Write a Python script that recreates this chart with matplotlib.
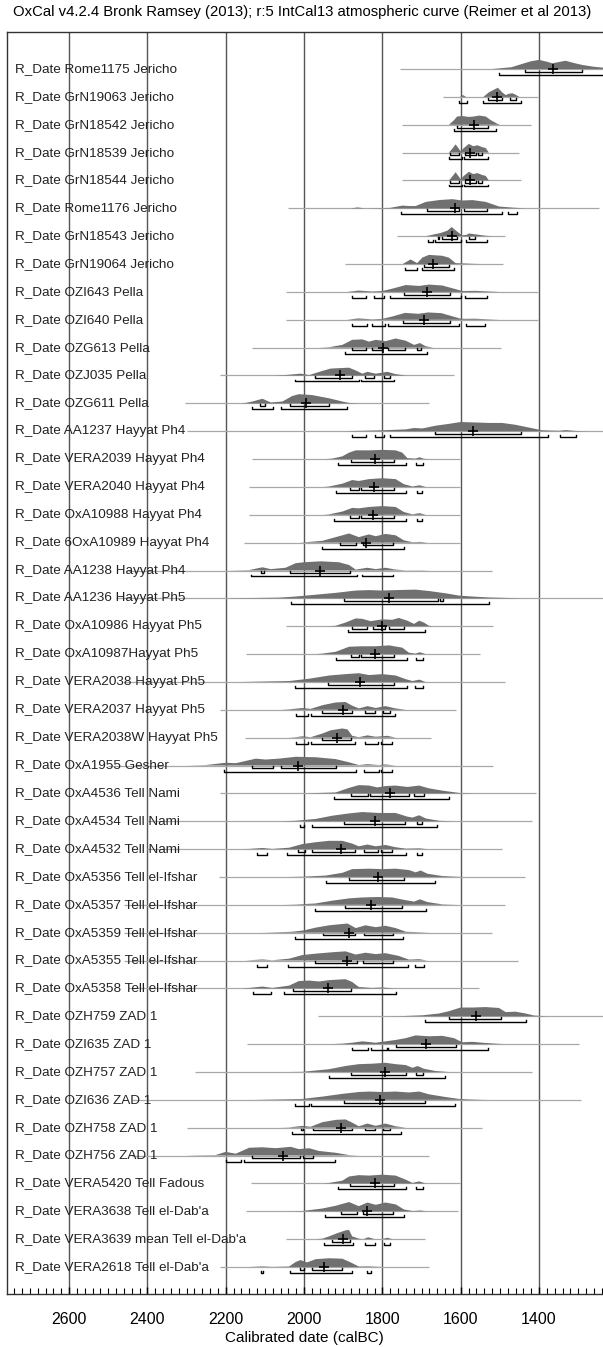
import matplotlib.pyplot as plt
from matplotlib.ticker import MultipleLocator

plt.rcParams["font.family"] = ["Liberation Sans", "DejaVu Sans"]

title = "OxCal v4.2.4 Bronk Ramsey (2013); r:5 IntCal13 atmospheric curve (Reimer et al 2013)"

samples = [
    "Rome1175 Jericho", "GrN19063 Jericho", "GrN18542 Jericho", "GrN18539 Jericho",
    "GrN18544 Jericho", "Rome1176 Jericho", "GrN18543 Jericho", "GrN19064 Jericho",
    "OZI643 Pella", "OZI640 Pella", "OZG613 Pella", "OZJ035 Pella", "OZG611 Pella",
    "AA1237 Hayyat Ph4", "VERA2039 Hayyat Ph4", "VERA2040 Hayyat Ph4",
    "OxA10988 Hayyat Ph4", "6OxA10989 Hayyat Ph4", "AA1238 Hayyat Ph4",
    "AA1236 Hayyat Ph5", "OxA10986 Hayyat Ph5", "OxA10987Hayyat Ph5",
    "VERA2038 Hayyat Ph5", "VERA2037 Hayyat Ph5", "VERA2038W Hayyat Ph5",
    "OxA1955 Gesher", "OxA4536 Tell Nami", "OxA4534 Tell Nami", "OxA4532 Tell Nami",
    "OxA5356 Tell el-Ifshar", "OxA5357 Tell el-Ifshar", "OxA5359 Tell el-Ifshar",
    "OxA5355 Tell el-Ifshar", "OxA5358 Tell el-Ifshar",
    "OZH759 ZAD 1", "OZI635 ZAD 1", "OZH757 ZAD 1", "OZI636 ZAD 1", "OZH758 ZAD 1",
    "OZH756 ZAD 1", "VERA5420 Tell Fadous", "VERA3638 Tell el-Dab'a",
    "VERA3639 mean Tell el-Dab'a", "VERA2618 Tell el-Dab'a",
]

# extent of the likelihood line (calBC)
baselines = [
    (1756, 1150), (1645, 1402), (1751, 1421), (1751, 1451), (1751, 1447),
    (2040, 1247), (1762, 1487), (1895, 1492), (2045, 1402), (2045, 1402),
    (2134, 1498), (2215, 1617), (2304, 1681), (2298, 1150), (2134, 1602),
    (2140, 1602), (2140, 1602), (2153, 1602), (2450, 1521), (2480, 1150),
    (2045, 1517), (2147, 1551), (2460, 1487), (2215, 1613), (2151, 1677),
    (2500, 1517), (2215, 1407), (2400, 1417), (2400, 1494), (2217, 1436),
    (2460, 1487), (2460, 1521), (2460, 1453), (2450, 1552), (1963, 1150),
    (2145, 1298), (2279, 1417), (2440, 1292), (2300, 1546), (2440, 1681),
    (2136, 1602), (2149, 1606), (2045, 1691), (2215, 1681),
]

medians = [
    1364, 1507, 1566, 1577, 1577, 1615, 1623, 1670, 1687, 1694, 1798, 1908, 1994,
    1568, 1819, 1821, 1823, 1841, 1960, 1783, 1800, 1819, 1857, 1900, 1915, 2015,
    1780, 1820, 1905, 1810, 1828, 1884, 1891, 1939, 1562, 1689, 1794, 1806, 1906,
    2054, 1819, 1840, 1901, 1949,
]

# 68.2% ranges
r68 = [
    [(1437, 1290)],
    [(1530, 1495), (1475, 1460)],
    [(1610, 1530)],
    [(1627, 1604), (1589, 1562), (1557, 1545)],
    [(1627, 1604), (1589, 1562), (1557, 1545)],
    [(1685, 1604), (1591, 1532)],
    [(1659, 1655), (1647, 1609), (1579, 1564)],
    [(1694, 1630)],
    [(1745, 1626)],
    [(1747, 1628)],
    [(1878, 1841), (1827, 1800), (1785, 1743), (1711, 1702)],
    [(1972, 1877), (1843, 1821), (1796, 1781)],
    [(2112, 2100), (2036, 1935)],
    [(1666, 1445)],
    [(1881, 1770)],
    [(1883, 1860), (1854, 1770)],
    [(1883, 1860), (1854, 1770)],
    [(1909, 1866), (1849, 1774)],
    [(2111, 2102), (2036, 1883)],
    [(1898, 1657), (1654, 1644)],
    [(1878, 1840), (1823, 1792), (1783, 1744)],
    [(1881, 1860), (1854, 1770)],
    [(1938, 1770)],
    [(1955, 1877), (1843, 1820), (1798, 1781)],
    [(1955, 1881)],
    [(2134, 2079), (2060, 1919)],
    [(1879, 1837), (1832, 1732), (1719, 1694)],
    [(1898, 1742), (1711, 1700)],
    [(2015, 1997), (1980, 1870), (1846, 1811), (1803, 1776)],
    [(1885, 1744)],
    [(1895, 1751)],
    [(1951, 1870), (1847, 1774)],
    [(1973, 1864), (1849, 1772)],
    [(2027, 1881)],
    [(1630, 1498)],
    [(1766, 1613)],
    [(1881, 1739), (1713, 1696)],
    [(1898, 1691)],
    [(2007, 2003), (1976, 1877), (1843, 1819), (1798, 1781)],
    [(2134, 2011), (2002, 1976)],
    [(1883, 1770)],
    [(1905, 1864), (1849, 1772)],
    [(1928, 1883)],
    [(2011, 2000), (1979, 1902)],
]

# 95.4% ranges
r95 = [
    [(1502, 1150)],
    [(1604, 1583), (1544, 1447)],
    [(1617, 1511)],
    [(1630, 1596), (1592, 1530)],
    [(1630, 1596), (1592, 1530)],
    [(1753, 1494), (1479, 1455)],
    [(1683, 1671), (1666, 1598), (1586, 1532)],
    [(1742, 1711), (1700, 1617)],
    [(1877, 1841), (1821, 1796), (1781, 1598), (1589, 1532)],
    [(1878, 1838), (1826, 1794), (1785, 1604), (1586, 1538)],
    [(1895, 1687)],
    [(2024, 1860), (1854, 1770)],
    [(2134, 2079), (2060, 1889)],
    [(1877, 1841), (1820, 1796), (1781, 1376), (1346, 1305)],
    [(1912, 1739), (1713, 1696)],
    [(1919, 1740), (1711, 1698)],
    [(1923, 1740), (1712, 1698)],
    [(1953, 1745)],
    [(2136, 1864), (1851, 1772)],
    [(2032, 1528)],
    [(1888, 1691)],
    [(1919, 1738), (1713, 1696)],
    [(2024, 1736), (1717, 1695)],
    [(2021, 1991), (1983, 1768)],
    [(2021, 1991), (1983, 1871), (1845, 1810), (1803, 1776)],
    [(2204, 1868), (1846, 1809), (1803, 1775)],
    [(1923, 1630)],
    [(2011, 2000), (1980, 1660)],
    [(2121, 2094), (2043, 1740), (1711, 1698)],
    [(1945, 1666)],
    [(1973, 1688)],
    [(2023, 1746)],
    [(2120, 2094), (2040, 1735), (1717, 1694)],
    [(2130, 2085), (2050, 1766)],
    [(1692, 1432)],
    [(1878, 1837), (1830, 1789), (1785, 1529)],
    [(1936, 1640)],
    [(2023, 1987), (1983, 1615)],
    [(2030, 1753)],
    [(2200, 2160), (2153, 1921)],
    [(1912, 1739), (1713, 1696)],
    [(1946, 1745)],
    [(1949, 1875), (1843, 1820), (1796, 1781)],
    [(2111, 2105), (2036, 1877), (1838, 1830)],
]

# probability profiles: (calBC, relative density)
profiles = [
    [(1520, 0), (1490, 0.12), (1470, 0.2), (1440, 0.6), (1420, 0.85), (1400, 1.0), (1380, 0.8), (1366, 0.63), (1345, 0.8), (1332, 0.9), (1310, 0.65), (1290, 0.45), (1260, 0.25), (1236, 0.15), (1200, 0.05), (1180, 0)],
    [(1602, 0), (1594, 0.2), (1586, 0), (1542, 0), (1528, 0.5), (1512, 0.85), (1505, 1.0), (1494, 0.5), (1485, 0.2), (1476, 0.35), (1468, 0.4), (1458, 0.2), (1450, 0)],
    [(1630, 0), (1617, 0.5), (1609, 0.9), (1596, 0.95), (1579, 0.85), (1566, 0.9), (1553, 1.0), (1536, 0.9), (1523, 0.5), (1506, 0.1), (1500, 0)],
    [(1630, 0), (1620, 0.5), (1613, 0.9), (1606, 0.5), (1600, 0.15), (1592, 0.5), (1579, 0.95), (1568, 0.7), (1557, 0.8), (1545, 0.6), (1536, 0.5), (1528, 0)],
    [(1630, 0), (1620, 0.5), (1613, 0.9), (1606, 0.5), (1600, 0.15), (1592, 0.5), (1579, 0.95), (1568, 0.7), (1557, 0.8), (1545, 0.6), (1536, 0.5), (1528, 0)],
    [(1880, 0), (1863, 0.1), (1845, 0), (1780, 0.05), (1749, 0.3), (1730, 0.25), (1715, 0.25), (1689, 0.7), (1655, 0.9), (1621, 1.0), (1596, 0.85), (1570, 0.9), (1536, 0.7), (1502, 0.2), (1468, 0.08), (1434, 0)],
    [(1688, 0), (1668, 0.2), (1651, 0.35), (1634, 0.6), (1623, 1.0), (1609, 0.5), (1596, 0.1), (1585, 0.15), (1579, 0.3), (1562, 0.2), (1536, 0.05), (1520, 0)],
    [(1748, 0), (1728, 0.5), (1711, 0.1), (1698, 0.7), (1681, 1.0), (1647, 0.9), (1630, 0.7), (1613, 0.1), (1570, 0.03), (1550, 0)],
    [(1890, 0), (1860, 0.15), (1826, 0.05), (1800, 0.1), (1775, 0.35), (1740, 0.75), (1706, 0.65), (1681, 0.8), (1647, 0.7), (1617, 0.35), (1596, 0.1), (1562, 0.12), (1528, 0.05), (1500, 0)],
    [(1890, 0), (1862, 0.15), (1826, 0.05), (1800, 0.1), (1775, 0.35), (1742, 0.75), (1708, 0.65), (1683, 0.8), (1649, 0.72), (1619, 0.35), (1598, 0.1), (1564, 0.12), (1530, 0.05), (1500, 0)],
    [(1960, 0), (1936, 0.05), (1902, 0.3), (1877, 0.85), (1851, 0.9), (1834, 0.65), (1817, 0.85), (1792, 0.7), (1766, 1.0), (1740, 0.75), (1719, 0.3), (1704, 0.5), (1689, 0.15), (1670, 0)],
    [(2080, 0), (2047, 0.05), (2009, 0.2), (1987, 0.05), (1953, 0.5), (1932, 0.75), (1911, 0.8), (1885, 0.85), (1868, 0.55), (1851, 0.2), (1838, 0.4), (1817, 0.2), (1787, 0.4), (1766, 0.15), (1740, 0)],
    [(2160, 0), (2149, 0.05), (2132, 0.2), (2106, 0.5), (2085, 0.1), (2055, 0.2), (2030, 0.8), (2013, 1.0), (1979, 0.9), (1936, 0.55), (1902, 0.2), (1885, 0.05), (1860, 0)],
    [(1900, 0), (1800, 0.1), (1740, 0.2), (1719, 0.35), (1698, 0.3), (1664, 0.6), (1630, 0.8), (1600, 1.0), (1562, 0.95), (1528, 0.9), (1494, 0.9), (1460, 0.7), (1426, 0.4), (1392, 0.1), (1349, 0.05), (1332, 0.12), (1306, 0.03), (1270, 0)],
    [(1945, 0), (1928, 0.05), (1902, 0.3), (1885, 0.7), (1868, 0.95), (1834, 0.95), (1800, 1.0), (1766, 0.95), (1749, 0.7), (1736, 0.1), (1715, 0.05), (1705, 0.2), (1694, 0.03), (1680, 0)],
    [(1950, 0), (1936, 0.05), (1902, 0.35), (1877, 0.75), (1860, 0.65), (1834, 0.85), (1800, 0.95), (1766, 0.85), (1745, 0.3), (1723, 0.05), (1705, 0.18), (1689, 0)],
    [(1950, 0), (1936, 0.05), (1902, 0.35), (1877, 0.75), (1860, 0.7), (1834, 0.85), (1800, 0.95), (1766, 0.85), (1745, 0.3), (1723, 0.05), (1705, 0.18), (1689, 0)],
    [(2010, 0), (1953, 0.2), (1919, 0.6), (1885, 1.0), (1860, 0.6), (1834, 0.9), (1817, 0.7), (1792, 0.95), (1766, 0.8), (1745, 0.25), (1723, 0.05), (1702, 0.08), (1685, 0)],
    [(2200, 0), (2140, 0.05), (2106, 0.35), (2085, 0.15), (2047, 0.3), (2021, 0.8), (2000, 0.9), (1957, 1.0), (1911, 0.9), (1885, 0.6), (1868, 0.1), (1838, 0.3), (1817, 0.15), (1792, 0.3), (1766, 0.1), (1740, 0.02), (1698, 0.03), (1680, 0)],
    [(2200, 0), (2149, 0.03), (2064, 0.08), (2021, 0.2), (1970, 0.4), (1919, 0.6), (1868, 0.85), (1834, 0.9), (1800, 0.85), (1766, 0.9), (1715, 0.95), (1681, 0.8), (1638, 0.55), (1604, 0.3), (1570, 0.2), (1528, 0.1), (1485, 0.05), (1440, 0)],
    [(1940, 0), (1919, 0.05), (1894, 0.4), (1868, 0.85), (1851, 0.8), (1830, 0.55), (1800, 0.75), (1775, 0.7), (1758, 0.9), (1736, 0.6), (1719, 0.25), (1706, 0.6), (1694, 0.4), (1681, 0.05), (1670, 0)],
    [(1970, 0), (1953, 0.05), (1919, 0.25), (1885, 0.8), (1851, 0.85), (1817, 0.85), (1783, 0.95), (1749, 0.7), (1732, 0.15), (1715, 0.05), (1705, 0.2), (1689, 0)],
    [(2160, 0), (2038, 0.1), (1987, 0.35), (1936, 0.7), (1894, 0.85), (1860, 0.95), (1834, 0.75), (1800, 0.85), (1766, 0.7), (1740, 0.3), (1723, 0.1), (1705, 0.25), (1690, 0)],
    [(2060, 0), (2038, 0.05), (2004, 0.2), (1983, 0.1), (1953, 0.5), (1919, 0.8), (1894, 0.85), (1877, 0.45), (1860, 0.15), (1838, 0.4), (1817, 0.2), (1792, 0.4), (1766, 0.15), (1740, 0)],
    [(2040, 0), (2021, 0.05), (2004, 0.15), (1983, 0.05), (1953, 0.45), (1932, 0.8), (1902, 1.0), (1889, 0.9), (1877, 0.2), (1860, 0.05), (1838, 0.25), (1817, 0.1), (1787, 0.2), (1766, 0)],
    [(2300, 0), (2251, 0.05), (2200, 0.3), (2174, 0.25), (2123, 0.75), (2098, 0.65), (2064, 0.75), (2021, 0.95), (1970, 0.9), (1919, 0.7), (1885, 0.35), (1860, 0.05), (1838, 0.15), (1809, 0.05), (1792, 0.12), (1766, 0)],
    [(2000, 0), (1919, 0.1), (1885, 0.6), (1860, 0.9), (1834, 0.85), (1813, 0.65), (1792, 0.8), (1766, 0.85), (1736, 0.7), (1706, 0.85), (1681, 0.55), (1647, 0.3), (1604, 0.05), (1570, 0)],
    [(2060, 0), (2021, 0.05), (1970, 0.25), (1928, 0.6), (1885, 0.85), (1851, 1.0), (1809, 0.9), (1766, 0.9), (1736, 0.5), (1723, 0.4), (1706, 0.65), (1689, 0.3), (1655, 0.05), (1620, 0)],
    [(2160, 0), (2140, 0.02), (2106, 0.12), (2081, 0.02), (2038, 0.15), (2004, 0.55), (1970, 0.75), (1936, 0.9), (1902, 0.9), (1877, 0.6), (1860, 0.3), (1838, 0.5), (1817, 0.3), (1792, 0.45), (1766, 0.2), (1740, 0.05), (1706, 0.08), (1685, 0)],
    [(2040, 0), (2004, 0.03), (1945, 0.15), (1902, 0.45), (1877, 0.85), (1834, 0.9), (1800, 0.85), (1766, 0.9), (1732, 0.75), (1715, 0.5), (1702, 0.7), (1685, 0.35), (1647, 0.1), (1613, 0.03), (1590, 0)],
    [(2050, 0), (2021, 0.03), (1970, 0.15), (1928, 0.45), (1885, 0.7), (1851, 0.8), (1809, 0.85), (1775, 0.8), (1740, 0.5), (1719, 0.35), (1704, 0.6), (1685, 0.3), (1647, 0.05), (1610, 0)],
    [(2110, 0), (2089, 0.02), (2030, 0.1), (2000, 0.25), (1970, 0.55), (1936, 0.8), (1889, 1.0), (1868, 0.5), (1843, 0.8), (1817, 0.6), (1792, 0.75), (1766, 0.5), (1740, 0.1), (1706, 0.05), (1680, 0)],
    [(2150, 0), (2132, 0.05), (2106, 0.12), (2081, 0.03), (2038, 0.2), (2004, 0.6), (1970, 0.75), (1928, 0.9), (1894, 1.0), (1868, 0.65), (1843, 0.85), (1817, 0.7), (1792, 0.8), (1758, 0.5), (1732, 0.1), (1706, 0.15), (1685, 0)],
    [(2160, 0), (2140, 0.05), (2106, 0.2), (2081, 0.05), (2038, 0.3), (2013, 0.8), (1987, 0.85), (1962, 0.75), (1936, 0.9), (1894, 1.0), (1877, 0.7), (1860, 0.15), (1826, 0.05), (1800, 0.1), (1770, 0)],
    [(1780, 0), (1749, 0.02), (1698, 0.1), (1655, 0.3), (1630, 0.55), (1600, 0.95), (1570, 0.95), (1536, 1.0), (1502, 0.9), (1485, 0.45), (1460, 0.5), (1434, 0.3), (1413, 0.08), (1380, 0)],
    [(1930, 0), (1902, 0.05), (1877, 0.15), (1851, 0.3), (1817, 0.15), (1792, 0.3), (1766, 0.45), (1740, 0.65), (1715, 0.95), (1681, 0.85), (1647, 0.9), (1617, 0.65), (1596, 0.2), (1570, 0.25), (1545, 0.15), (1511, 0.05), (1490, 0)],
    [(2040, 0), (2004, 0.02), (1936, 0.3), (1894, 0.65), (1860, 0.85), (1826, 0.9), (1792, 1.0), (1766, 0.85), (1740, 0.75), (1723, 0.45), (1710, 0.65), (1694, 0.35), (1664, 0.1), (1630, 0)],
    [(2130, 0), (2106, 0.02), (2004, 0.1), (1953, 0.35), (1902, 0.65), (1860, 0.85), (1834, 0.9), (1800, 0.85), (1766, 0.9), (1732, 0.8), (1706, 0.9), (1681, 0.6), (1638, 0.3), (1604, 0.1), (1562, 0.03), (1530, 0)],
    [(2060, 0), (2038, 0.03), (2004, 0.2), (1983, 0.1), (1953, 0.6), (1919, 0.85), (1894, 0.9), (1877, 0.55), (1860, 0.15), (1838, 0.45), (1817, 0.2), (1792, 0.45), (1766, 0.15), (1740, 0)],
    [(2300, 0), (2277, 0.03), (2226, 0.05), (2200, 0.4), (2174, 0.2), (2140, 0.85), (2106, 0.9), (2072, 0.8), (2034, 0.95), (2013, 0.7), (1987, 0.8), (1962, 0.5), (1919, 0.3), (1885, 0.05), (1860, 0)],
    [(1950, 0), (1936, 0.05), (1902, 0.3), (1885, 0.75), (1860, 0.9), (1834, 0.85), (1800, 0.95), (1766, 0.85), (1740, 0.4), (1723, 0.05), (1706, 0.22), (1690, 0)],
    [(2030, 0), (2004, 0.03), (1953, 0.3), (1919, 0.6), (1885, 1.0), (1860, 0.55), (1838, 0.95), (1817, 0.7), (1792, 0.95), (1766, 0.75), (1745, 0.2), (1723, 0.03), (1702, 0.08), (1688, 0)],
    [(1970, 0), (1953, 0.05), (1936, 0.3), (1915, 0.65), (1894, 0.95), (1885, 1.0), (1877, 0.3), (1860, 0.05), (1848, 0), (1836, 0.2), (1820, 0), (1800, 0), (1787, 0.15), (1775, 0)],
    [(2140, 0), (2123, 0.03), (2106, 0.06), (2081, 0.01), (2038, 0.05), (2021, 0.55), (2009, 0.75), (1992, 0.5), (1970, 0.85), (1936, 0.95), (1902, 0.9), (1881, 0.5), (1860, 0.05), (1834, 0.06), (1800, 0)],
]

major_ticks = [2600, 2400, 2200, 2000, 1800, 1600, 1400]

W, H = 603, 1347
fig = plt.figure(figsize=(W / 100, H / 100), dpi=100)
ax = fig.add_axes([6.5 / W, 53 / H, 1 - 6.5 / W, 1262 / H])

peak = 0.33      # peak height in row units
off68 = 0.10
off95 = 0.215
tick = 0.07

for i, name in enumerate(samples):
    y = i
    ax.plot(baselines[i], [y, y], color="#a8a8a8", lw=0.9, zorder=2, solid_capstyle="butt")
    xs = [p[0] for p in profiles[i]]
    hs = [y - p[1] * peak for p in profiles[i]]
    ax.fill(xs, hs, color="#707070", lw=0, zorder=3)
    for a, b in r68[i]:
        ax.plot([a, a, b, b], [y + off68 - tick, y + off68, y + off68, y + off68 - tick],
                color="black", lw=1.0, zorder=4)
    for a, b in r95[i]:
        ax.plot([a, a, b, b], [y + off95 - tick, y + off95, y + off95, y + off95 - tick],
                color="black", lw=1.0, zorder=4)
    ax.plot(medians[i], y, marker="+", color="black", ms=7, mew=1.2, zorder=5)
    ax.text(0.0143, y, "R_Date " + name, transform=ax.get_yaxis_transform(),
            ha="left", va="center", fontsize=9.7, color="#222222", zorder=6)

for t in major_ticks:
    ax.axvline(t, color="#555555", lw=1.0, zorder=1)

ax.set_xlim(2759.6, 1236.6)
ax.set_ylim(43.97, -1.33)
ax.set_yticks([])
ax.xaxis.set_major_locator(MultipleLocator(200))
ax.xaxis.set_minor_locator(MultipleLocator(20))
ax.tick_params(axis="x", which="both", direction="in", top=False, labelsize=11.5, pad=13)
ax.tick_params(axis="x", which="major", length=5, width=1)
ax.tick_params(axis="x", which="minor", length=4, width=0.8)
ax.spines["right"].set_visible(False)
for s in ["left", "top", "bottom"]:
    ax.spines[s].set_color("#333333")
    ax.spines[s].set_linewidth(1.0)

ax.set_xlabel("Calibrated date (calBC)", fontsize=11, labelpad=3)
fig.text(302 / W, 1 - 12 / H, title, ha="center", va="center", fontsize=10.7)

fig.savefig("out.png", dpi=100)
